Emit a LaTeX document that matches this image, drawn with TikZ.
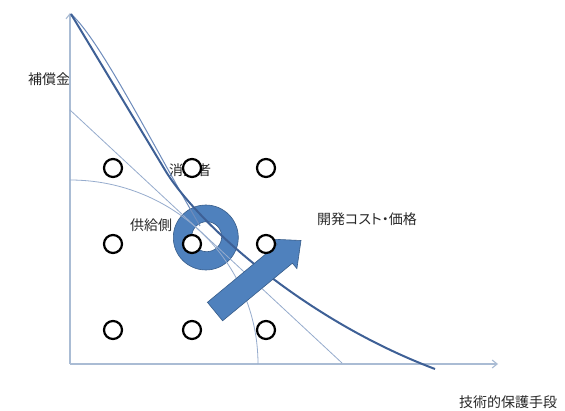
\documentclass[tikz,border=0pt]{standalone}
\usepackage{fontspec}
\setmainfont{Noto Sans CJK JP}[RawFeature=+palt]
\usetikzlibrary{arrows.meta}
\definecolor{axisc}{RGB}{170,188,212}
\definecolor{thinc}{RGB}{150,172,205}
\definecolor{midc}{RGB}{110,140,188}
\definecolor{thickc}{RGB}{62,96,150}
\definecolor{blfill}{RGB}{79,129,189}
\definecolor{bldraw}{RGB}{56,93,138}
\definecolor{txt}{RGB}{40,40,40}
\begin{document}
\begin{tikzpicture}[x=1pt,y=-1pt,
  lbl/.style={font=\fontsize{14}{16}\selectfont, text=txt, inner sep=0pt},
  dot/.style={circle, draw=black, fill=white, line width=2.2pt, minimum size=18pt, inner sep=0pt},
  axisline/.style={axisc, line width=1.1pt, -{Straight Barb[length=5pt,width=8pt]}},
  thinline/.style={thinc, line width=0.8pt},
  midline/.style={midc, line width=1pt},
  thickline/.style={thickc, line width=2pt},
  blueshape/.style={fill=blfill, draw=bldraw, line width=0.6pt}]
\useasboundingbox (0,0) rectangle (565,411);
\fill[white] (0,0) rectangle (565,411);

% labels
\node[lbl] (comp) at (49,79) {補償金};
\node[lbl] (cons) at (190,170) {消費者};
\node[lbl] (supp) at (151,225) {供給側};
\node[lbl] (cost) at (367,219) {開発コスト・価格};
\node[lbl] (tech) at (508,402) {技術的保護手段};

% ring
\path[blueshape, even odd rule] (205.8,237.5) circle (32.5pt) (206.7,236.7) circle (15pt);

% axes
\coordinate (O) at (70,364);
\coordinate (Ytop) at (70,13);
\coordinate (Xend) at (498,364);
\draw[axisline] (O) -- (Ytop);
\draw[axisline] (O) -- (Xend);

% thin curves
\coordinate (L1a) at (70,110);
\coordinate (L1b) at (342,363);
\draw[thinline] (L1a) -- (L1b);
\coordinate (A1) at (70,180);
\draw[thinline] (A1) arc[start angle=90, end angle=0, x radius=188pt, y radius=184pt];

% thick curve and its companion
\coordinate (T0) at (71,14);
\coordinate (T1) at (165,170);
\coordinate (T2) at (435,369);
\coordinate (B1) at (200,226);
\draw[midline] (T0) .. controls (100,40) and (150,140) .. (B1);
\draw[thickline] (T0) -- (T1) .. controls (195,220) and (300,318) .. (T2);

% block arrow
\path[blueshape] (207.4,302.3) -- (277.1,244.6) -- (272.7,239.2) -- (301,240.5) -- (296.9,268.6) -- (292.4,263.2) -- (222.6,320.8) -- cycle;

% circles
\foreach \r/\y in {1/168,2/244,3/330}{
  \foreach \c/\x in {1/113,2/192,3/266}{
    \node[dot] (d\r\c) at (\x,\y) {};
  }
}
\end{tikzpicture}
\end{document}
